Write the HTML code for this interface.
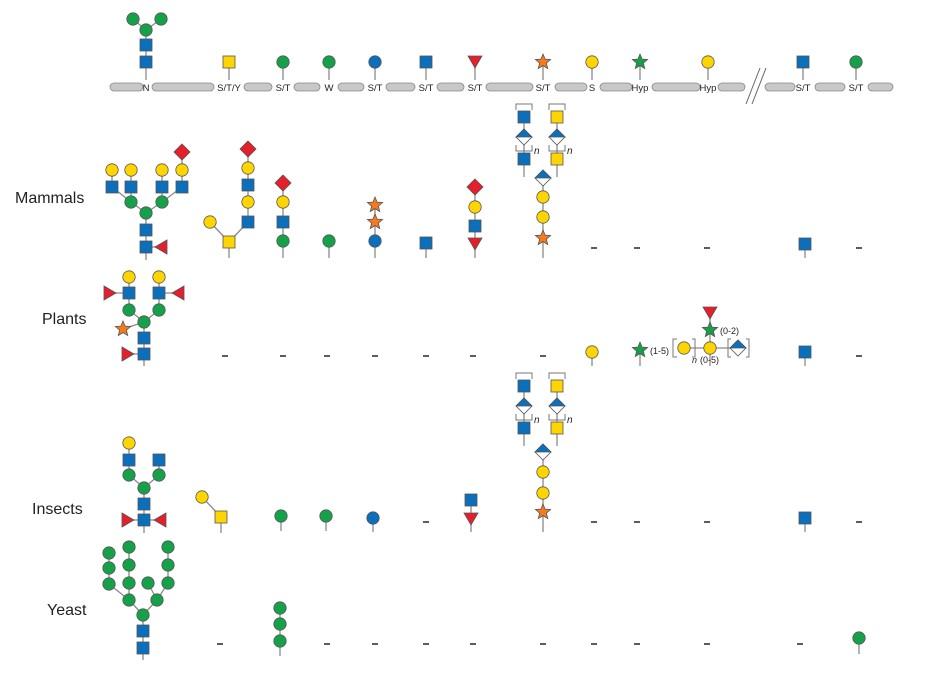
<!DOCTYPE html>
<html><head><meta charset="utf-8"><style>
body{margin:0;background:#fff;width:926px;height:678px;overflow:hidden;font-family:"Liberation Sans",sans-serif}
svg{position:absolute;left:0;top:0}
</style></head><body>
<svg id="s" width="926" height="678" viewBox="0 0 926 678"></svg>
<script>
const NS="http://www.w3.org/2000/svg";
const S=document.getElementById('s');
const C={b:"#0b6fbb",g:"#15a14a",y:"#ffd500",r:"#e51f2b",o:"#f47a20",gs:"#16a04a"};
function mk(tag,at,parent){const e=document.createElementNS(NS,tag);for(const k in at)e.setAttribute(k,at[k]);(parent||S).appendChild(e);return e;}
function line(x1,y1,x2,y2,p){const e=mk('line',{x1,y1,x2,y2,stroke:"#8a8a8a","stroke-width":1.3},p);

return e;}
function star(x,y,r){let pts=[];for(let i=0;i<10;i++){const a=-Math.PI/2+i*Math.PI/5,rr=i%2?r*0.45:r;pts.push((x+rr*Math.cos(a)).toFixed(1)+","+(y+rr*Math.sin(a)).toFixed(1));}return pts.join(" ");}
function sym(t,x,y,p){let e;const st={stroke:"#555","stroke-width":0.8};
if(t==='bs'||t==='ys'){e=mk('rect',Object.assign({x:x-6,y:y-6,width:12,height:12,fill:t==='bs'?C.b:C.y},st),p);}
else if(t==='gc'||t==='yc'||t==='bc'){e=mk('circle',Object.assign({cx:x,cy:y,r:6.2,fill:t==='gc'?C.g:t==='yc'?C.y:C.b},st),p);}
else if(t==='rd'){e=mk('polygon',Object.assign({points:`${x},${y-8} ${x+8},${y} ${x},${y+8} ${x-8},${y}`,fill:C.r},st),p);}
else if(t==='hd'){e=mk('g',{},p);mk('polygon',{points:`${x},${y-8} ${x+8},${y} ${x},${y+8} ${x-8},${y}`,fill:"#fff",stroke:"#555","stroke-width":0.8},e);mk('polygon',{points:`${x},${y-8} ${x+8},${y} ${x-8},${y}`,fill:C.b,stroke:"#555","stroke-width":0.8},e);}
else if(t==='rtd'){e=mk('polygon',Object.assign({points:`${x-7},${y-6} ${x+7},${y-6} ${x},${y+6}`,fill:C.r},st),p);}
else if(t==='rtl'){e=mk('polygon',Object.assign({points:`${x+6},${y-7} ${x+6},${y+7} ${x-6},${y}`,fill:C.r},st),p);}
else if(t==='rtr'){e=mk('polygon',Object.assign({points:`${x-6},${y-7} ${x-6},${y+7} ${x+6},${y}`,fill:C.r},st),p);}
else if(t==='os'||t==='gst'){e=mk('polygon',Object.assign({points:star(x,y,8),fill:t==='os'?C.o:C.gs},st),p);}


return e;}
function text(x,y,s,size,anchor,style){const e=mk('text',{x,y,"font-size":size,"text-anchor":anchor||"start","font-family":"Liberation Sans, sans-serif",fill:"#222"});if(style)e.setAttribute('font-style',style);e.textContent=s;return e;}
function glycan(name,res,links,stem){const g=mk('g',{});


if(stem)line(stem[0],stem[1],stem[0],stem[2],g);
for(const l of links)line(res[l[0]][1],res[l[0]][2],res[l[1]][1],res[l[1]][2],g);
for(const r of res)sym(r[0],r[1],r[2],g);return g;}
function chain(name,x,types,ys,base){const res=types.map((t,i)=>[t,x,ys[i]]);const links=[];for(let i=1;i<res.length;i++)links.push([i-1,i]);return glycan(name,res,links,[x,ys[0],base]);}
function dash(x,y){const e=mk('line',{x1:x-3,y1:y,x2:x+3,y2:y,stroke:"#333","stroke-width":1.6});

}

// peptide backbone
const segs=[[110,143],[152,214],[244,272],[294,320],[338,364],[386,415],[437,464],[486,533],[555,587],[600,632],[652,700],[718,745],[765,795],[815,845],[868,893]];
const sites=["N","S/T/Y","S/T","W","S/T","S/T","S/T","S/T","S","Hyp","Hyp","S/T","S/T"];
const siteX=[146,229,283,329,375,426,475,543,592,640,708,803,856];
for(const sg of segs){const e=mk('rect',{x:sg[0],y:83,width:sg[1]-sg[0],height:8,rx:4,fill:"#c8c8c8",stroke:"#888","stroke-width":0.8});

}
sites.forEach((s,i)=>{const t=text(siteX[i],91,s,9.5,"middle");

});
const br=mk('g',{});


mk('line',{x1:746,y1:104,x2:760,y2:68,stroke:"#666","stroke-width":1},br);
mk('line',{x1:752,y1:104,x2:766,y2:68,stroke:"#666","stroke-width":1},br);

// top attachment
glycan('top-n-glycan',[['bs',146,62],['bs',146,45],['gc',146,30],['gc',133,19],['gc',161,19]],[[0,1],[1,2],[2,3],[2,4]],[146,62,80]);
const topT=['ys','gc','gc','bc','bs','rtd','os','yc','gst','yc','bs','gc'];
topT.forEach((t,i)=>chain('top-site-glycan',siteX[i+1],[t],[62],80));

// row labels
[["Mammals",15,203],["Plants",42,324],["Insects",32,514],["Yeast",47,615]].forEach(r=>{const t=text(r[1],r[2],r[0],16);

});

// bracket repeat structure
function repeatUnit(x,top,col){const g=chain('repeat-unit',x,[col,'hd',col],[top+42,top+20,top],top+60);
const p=mk('path',{d:`M${x-8},${top-7} v-6 h16 v6 M${x-8},${top+28} v6 h16 v-6`,fill:"none",stroke:"#777","stroke-width":1},g);
text(x+10,top+37,"n",10,"start","italic");}

// MAMMALS
glycan('mammal-n-glycan',[['bs',146,247],['rtl',161,247],['bs',146,230],['gc',146,213],['gc',131,202],['gc',162,202],['bs',112,187],['bs',131,187],['bs',162,187],['bs',182,187],['yc',112,170],['yc',131,170],['yc',162,170],['yc',182,170],['rd',182,152]],
[[0,1],[0,2],[2,3],[3,4],[3,5],[4,6],[4,7],[5,8],[5,9],[6,10],[7,11],[8,12],[9,13],[13,14]],[146,247,260]);
glycan('mammal-o-galnac',[['ys',229,242],['yc',210,222],['bs',248,222],['yc',248,202],['bs',248,185],['yc',248,168],['rd',248,149]],[[0,1],[0,2],[2,3],[3,4],[4,5],[5,6]],[229,242,258]);
chain('mammal-o-glc',283,['gc','bs','yc','rd'],[241,222,202,183],258);
chain('mammal-c-man',329,['gc'],[241],258);
chain('mammal-o-glc2',375,['bc','os','os'],[241,222,205],258);
chain('mammal-o-glcnac',426,['bs'],[243],258);
chain('mammal-o-fuc',475,['rtd','bs','yc','rd'],[244,226,207,187],258);
chain('mammal-o-xyl',543,['os','yc','yc','hd'],[238,217,197,178],258);
repeatUnit(524,117,'bs');repeatUnit(557,117,'ys');
chain('mammal-egf-glcnac',805,['bs'],[244],258);
[594,637,707,859].forEach(x=>dash(x,248));

// PLANTS
glycan('plant-n-glycan',[['bs',144,354],['rtr',128,354],['bs',144,338],['gc',144,322],['os',123,329],['gc',129,310],['gc',159,310],['bs',129,293],['bs',159,293],['rtr',110,293],['rtl',178,293],['yc',129,277],['yc',159,277]],
[[0,1],[0,2],[2,3],[3,4],[3,5],[3,6],[5,7],[6,8],[7,9],[8,10],[7,11],[8,12]],[144,354,366]);
[225,283,327,375,426,473,543].forEach(x=>dash(x,356));
chain('plant-o-gal',592,['yc'],[352],366);
chain('plant-hyp-ara',640,['gst'],[350],366);
text(650,354,"(1-5)",9);
glycan('plant-arabinogalactan',[['yc',710,348],['gst',710,330],['rtd',710,313],['yc',684,348],['hd',738,348]],[[0,1],[1,2],[0,3],[0,4]],[710,348,366]);
mk('path',{d:"M677,339 h-4 v18 h4 M692,339 h3 v18 h-3 M731,339 h-3 v18 h3 M746,339 h3 v18 h-3",fill:"none",stroke:"#777","stroke-width":1});
text(720,334,"(0-2)",9);text(692,363,"n",9,"start","italic");text(700,363,"(0-5)",9);
chain('plant-egf-glcnac',805,['bs'],[352],366);
dash(859,356);

// INSECTS
glycan('insect-n-glycan',[['bs',144,520],['rtr',128,520],['rtl',160,520],['bs',144,504],['gc',144,488],['gc',129,475],['gc',159,475],['bs',129,460],['bs',159,460],['yc',129,443]],
[[0,1],[0,2],[0,3],[3,4],[4,5],[4,6],[5,7],[6,8],[7,9]],[144,520,533]);
glycan('insect-o-galnac',[['ys',221,517],['yc',202,497]],[[0,1]],[221,517,533]);
chain('insect-o-glc',281,['gc'],[516],531);
chain('insect-c-man',326,['gc'],[516],531);
chain('insect-o-bc',373,['bc'],[518],532);
dash(426,522);
chain('insect-o-fuc',471,['rtd','bs'],[519,500],532);
chain('insect-o-xyl',543,['os','yc','yc','hd'],[512,493,472,452],532);
repeatUnit(524,386,'bs');repeatUnit(557,386,'ys');
chain('insect-egf-glcnac',805,['bs'],[518],532);
[594,637,707,859].forEach(x=>dash(x,522));

// YEAST
glycan('yeast-n-glycan',[['bs',143,648],['bs',143,631],['gc',143,615],['gc',129,600],['gc',157,600],['gc',129,583],['gc',129,565],['gc',129,547],['gc',109,584],['gc',109,568],['gc',109,553],['gc',148,583],['gc',168,583],['gc',168,565],['gc',168,547]],
[[0,1],[1,2],[2,3],[2,4],[3,5],[5,6],[6,7],[3,8],[8,9],[9,10],[4,11],[4,12],[12,13],[13,14]],[143,648,660]);
chain('yeast-o-man',280,['gc','gc','gc'],[641,624,608],656);
[220,327,375,426,473,543,594,637,707,800].forEach(x=>dash(x,644));
chain('yeast-o-man2',859,['gc'],[638],654);
</script>
</body></html>
